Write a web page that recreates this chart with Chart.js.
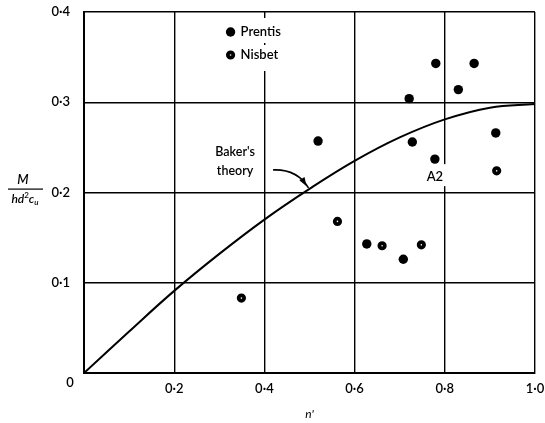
<!DOCTYPE html>
<html>
<head>
<meta charset="utf-8">
<script src="https://cdn.jsdelivr.net/npm/chart.js@4/dist/chart.umd.min.js"></script>
<style>
  html, body { margin: 0; padding: 0; background: #fff; }
  #wrap { width: 545px; height: 423px; }
</style>
</head>
<body>
<div id="wrap"><canvas id="c" width="545" height="423"></canvas></div>
<script>
// Baker's theory curve, n' against M/(hd²c_u)
const curveX = [0, 0.1, 0.2, 0.3, 0.4, 0.5, 0.6, 0.7, 0.8, 0.9, 1.0];
const curveY = [0, 0.046, 0.091, 0.132, 0.170, 0.204, 0.235, 0.261, 0.281, 0.294, 0.298];

// Test results
const prentisX = [0.519, 0.627, 0.708, 0.721, 0.728, 0.778, 0.780, 0.830, 0.865, 0.913];
const prentisY = [0.257, 0.143, 0.126, 0.304, 0.256, 0.237, 0.343, 0.314, 0.343, 0.266];
const nisbetX = [0.349, 0.562, 0.661, 0.748, 0.915];
const nisbetY = [0.083, 0.168, 0.141, 0.142, 0.224];

// Axis ticks
const xTicks = [0, 0.2, 0.4, 0.6, 0.8, 1.0];
const yTicks = [0, 0.1, 0.2, 0.3, 0.4];

const seriesNames = ['Prentis', 'Nisbet'];
const curveName = "Baker's theory";
const pointLabel = { text: 'A2', x: 0.778, y: 0.217 };

const FONT = 'Lato, "Open Sans", sans-serif';
const fmt = v => v.toFixed(1).replace('.', '\u00B7');

const pairs = (xs, ys) => xs.map((x, i) => ({ x, y: ys[i] }));

const prentisStyle = { pointRadius: 4.7, pointBackgroundColor: '#000', pointBorderColor: '#000', pointBorderWidth: 0 };
const nisbetStyle = { pointRadius: 2.7, pointBackgroundColor: '#fff', pointBorderColor: '#000', pointBorderWidth: 3.8 };

const annotations = {
  id: 'annotations',
  beforeDatasetsDraw(chart) {
    const ctx = chart.ctx;
    const xs = chart.scales.x, ys = chart.scales.y;
    ctx.save();
    // legend entries sit on a white ground over the grid
    ctx.fillStyle = '#fff';
    const lx = xs.getPixelForValue(0.325), ly1 = 32, ly2 = 55;
    ctx.fillRect(lx - 8, ly1 - 14, 72, 25);
    ctx.fillRect(lx - 8, ly2 - 10, 72, 26);
    // label for test A2
    const ax = xs.getPixelForValue(pointLabel.x), ay = ys.getPixelForValue(pointLabel.y);
    ctx.fillRect(ax - 10, ay - 13, 22, 22);
    ctx.fillStyle = '#000';
    ctx.font = '600 13px ' + FONT;
    ctx.textAlign = 'center';
    ctx.textBaseline = 'middle';
    ctx.fillText(pointLabel.text, ax, ay);

    // legend
    ctx.textAlign = 'left';
    [[ly1, prentisStyle, seriesNames[0]], [ly2, nisbetStyle, seriesNames[1]]].forEach(([y, st, name]) => {
      ctx.beginPath();
      ctx.arc(lx, y, st.pointRadius, 0, Math.PI * 2);
      ctx.fillStyle = st.pointBackgroundColor;
      ctx.fill();
      if (st.pointBorderWidth) {
        ctx.lineWidth = st.pointBorderWidth;
        ctx.strokeStyle = st.pointBorderColor;
        ctx.stroke();
      }
      ctx.fillStyle = '#000';
      ctx.fillText(name, lx + 10, y);
    });

    // curve caption with its pointer
    const words = curveName.split(' ');
    const tx = xs.getPixelForValue(0.335), ty = ys.getPixelForValue(0.245);
    ctx.font = '600 12.5px ' + FONT;
    ctx.textAlign = 'center';
    ctx.fillText(words[0], tx, ty);
    ctx.fillText(words[1], tx, ty + 19);
    const sx = tx + 38, sy = ty + 18;
    const ex = xs.getPixelForValue(0.5), ey = ys.getPixelForValue(0.204);
    ctx.beginPath();
    ctx.moveTo(sx, sy);
    ctx.quadraticCurveTo(sx + 24, sy - 1, ex - 1, ey - 1);
    ctx.lineWidth = 1.6;
    ctx.strokeStyle = '#000';
    ctx.stroke();
    // arrow head
    const ang = Math.atan2((ey - 1) - (sy - 1), (ex - 1) - (sx + 24));
    const hx = ex - 5, hy = ey - 6;
    ctx.beginPath();
    ctx.moveTo(hx + 4 * Math.cos(ang), hy + 4 * Math.sin(ang));
    ctx.lineTo(hx - 5 * Math.cos(ang) - 3 * Math.sin(ang), hy - 5 * Math.sin(ang) + 3 * Math.cos(ang));
    ctx.lineTo(hx - 5 * Math.cos(ang) + 3 * Math.sin(ang), hy - 5 * Math.sin(ang) - 3 * Math.cos(ang));
    ctx.closePath();
    ctx.fill();
    ctx.restore();
  },
  afterDraw(chart) {
    const ctx = chart.ctx;
    const xs = chart.scales.x, ys = chart.scales.y;
    ctx.save();
    ctx.fillStyle = '#000';
    ctx.textBaseline = 'middle';
    // shared origin label
    ctx.font = '600 13px ' + FONT;
    ctx.textAlign = 'center';
    ctx.fillText('0', xs.getPixelForValue(0) - 14, ys.getPixelForValue(0) + 10);

    // x axis title
    ctx.font = 'italic 12px ' + FONT;
    ctx.fillText("n'", (xs.left + xs.right) / 2, 414);

    // y axis title as a fraction M / hd²c_u
    const cx = 25, cy = ys.getPixelForValue(0.2) - 3;
    ctx.font = 'italic 600 13px ' + FONT;
    ctx.fillText('M', cx - 2, cy - 10);
    ctx.fillRect(cx - 17, cy - 1, 35, 1.2);
    const runs = [
      ['hd', 'italic 600 12px ' + FONT, 0],
      ['2', '600 8px ' + FONT, -4],
      ['c', 'italic 600 12px ' + FONT, 0],
      ['u', 'italic 600 8px ' + FONT, 3]
    ];
    let w = 0;
    runs.forEach(r => { ctx.font = r[1]; w += ctx.measureText(r[0]).width; });
    let px = cx - w / 2;
    ctx.textAlign = 'left';
    runs.forEach(r => {
      ctx.font = r[1];
      ctx.fillText(r[0], px, cy + 10 + r[2]);
      px += ctx.measureText(r[0]).width;
    });
    ctx.restore();
  }
};

new Chart(document.getElementById('c'), {
  type: 'scatter',
  data: {
    datasets: [
      {
        label: curveName,
        type: 'line',
        data: pairs(curveX, curveY),
        borderColor: '#000',
        borderWidth: 2,
        pointRadius: 0,
        fill: false,
        tension: 0.4,
        order: 3
      },
      Object.assign({ label: seriesNames[0], data: pairs(prentisX, prentisY), order: 1 }, prentisStyle),
      Object.assign({ label: seriesNames[1], data: pairs(nisbetX, nisbetY), order: 2 }, nisbetStyle)
    ]
  },
  options: {
    responsive: false,
    animation: false,
    layout: { padding: { top: 12, right: 10, left: 0, bottom: 0 } },
    plugins: { legend: { display: false }, tooltip: { enabled: false } },
    scales: {
      x: {
        type: 'linear',
        min: 0, max: 1,
        afterBuildTicks: s => { s.ticks = xTicks.map(v => ({ value: v })); },
        afterFit: s => { s.height = 50; s.paddingLeft = 0; s.paddingRight = 0; },
        ticks: {
          callback: v => (v === 0 ? '' : fmt(v)),
          color: '#000',
          font: { family: FONT, size: 13, weight: '600' },
          padding: 8,
          maxRotation: 0
        },
        grid: { color: '#000', lineWidth: 1.4, drawTicks: false },
        border: { color: '#000', width: 2 }
      },
      y: {
        type: 'linear',
        min: 0, max: 0.4,
        afterBuildTicks: s => { s.ticks = yTicks.map(v => ({ value: v })); },
        afterFit: s => { s.width = 84; s.paddingTop = 0; s.paddingBottom = 0; },
        ticks: {
          callback: v => (v === 0 ? '' : fmt(v)),
          color: '#000',
          font: { family: FONT, size: 13, weight: '600' },
          padding: 14
        },
        grid: { color: '#000', lineWidth: 1.4, drawTicks: false },
        border: { color: '#000', width: 2 }
      }
    }
  },
  plugins: [annotations]
});
</script>
</body>
</html>
